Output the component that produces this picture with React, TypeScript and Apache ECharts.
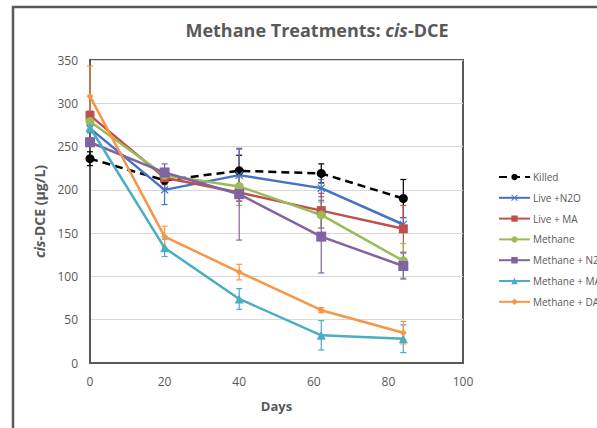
import React, { useEffect, useRef } from "react";
import * as echarts from "echarts";

const days = [0, 20, 40, 62, 84];
const seriesNames = ["Killed", "Live +N2O", "Live + MA", "Methane", "Methane + N2O", "Methane + MA", "Methane + DAP"];
const killed = [236, 211, 222, 219, 190];
const liveN2O = [271, 200, 217, 202, 160];
const liveMA = [286, 214, 197, 176, 155];
const methane = [279, 217, 204, 171, 118];
const methaneN2O = [255, 220, 195, 146, 112];
const methaneMA = [272, 133, 74, 32, 28];
const methaneDAP = [308, 146, 105, 61, 35];
const killedErr = [8, 10, 18, 11, 22];
const liveN2OErr = [5, 17, 30, 10, 8];
const liveMAErr = [5, 8, 10, 20, 27];
const methaneErr = [5, 8, 22, 15, 20];
const methaneN2OErr = [5, 10, 53, 42, 15];
const methaneMAErr = [5, 10, 12, 17, 16];
const methaneDAPErr = [35, 12, 9, 3, 13];

const values = [killed, liveN2O, liveMA, methane, methaneN2O, methaneMA, methaneDAP];
const errors = [killedErr, liveN2OErr, liveMAErr, methaneErr, methaneN2OErr, methaneMAErr, methaneDAPErr];
const colors = ["#000000", "#4472C4", "#C0504D", "#9BBB59", "#8064A2", "#4BACC6", "#F79646"];
const xSymbol = "path://M0,1 L1,0 L5,4 L9,0 L10,1 L6,5 L10,9 L9,10 L5,6 L1,10 L0,9 L4,5Z";
const symbols = ["circle", xSymbol, "rect", "circle", "rect", "triangle", "diamond"];
const symbolSizes = [9, 8, 9, 9, 10, 9, 7];

const FONT = "'Open Sans', 'Liberation Sans', sans-serif";
const GRAY = "#595959";

export default function App() {
  const ref = useRef<HTMLDivElement>(null);
  useEffect(() => {
    if (!ref.current) return;
    const chart = echarts.init(ref.current, undefined, { renderer: "svg" });
    const lineSeries = seriesNames.map((name, i) => ({
      name,
      type: "line",
      data: days.map((d, j) => [d, values[i][j]]),
      symbol: symbols[i],
      symbolSize: symbolSizes[i],
      lineStyle: { color: colors[i], width: 2.5, type: i === 0 ? [8, 5] : "solid" },
      itemStyle: { color: colors[i] },
      z: 3,
    }));
    const errSeries = seriesNames.map((name, i) => ({
      name: name + " err",
      type: "custom",
      data: days.map((d, j) => [d, values[i][j] - errors[i][j], values[i][j] + errors[i][j]]),
      encode: { x: 0, y: [1, 2] },
      z: 2,
      renderItem: (params: any, api: any) => {
        const x = api.value(0);
        const lo = api.coord([x, api.value(1)]);
        const hi = api.coord([x, api.value(2)]);
        const w = 3;
        const style = { stroke: colors[i], lineWidth: 1.2 };
        return {
          type: "group",
          children: [
            { type: "line", shape: { x1: lo[0], y1: lo[1], x2: hi[0], y2: hi[1] }, style },
            { type: "line", shape: { x1: lo[0] - w, y1: lo[1], x2: lo[0] + w, y2: lo[1] }, style },
            { type: "line", shape: { x1: hi[0] - w, y1: hi[1], x2: hi[0] + w, y2: hi[1] }, style },
          ],
        };
      },
    }));
    chart.setOption({
      animation: false,
      textStyle: { fontFamily: FONT },
      title: {
        text: "{n|Methane Treatments: }{i|cis}{n|-DCE}",
        left: 312,
        textAlign: "center",
        top: 16,
        textStyle: {
          rich: {
            n: { fontSize: 18, fontWeight: "bold", color: GRAY, fontFamily: FONT },
            i: { fontSize: 18, fontWeight: "bold", fontStyle: "italic", color: GRAY, fontFamily: FONT },
          },
        },
      },
      legend: {
        data: seriesNames,
        orient: "vertical",
        left: 493,
        top: 167,
        itemWidth: 31,
        itemHeight: 8,
        itemGap: 10.8,
        textStyle: { fontSize: 10, color: GRAY, fontFamily: FONT, padding: [0, 0, 0, -2] },
      },
      grid: {
        left: 90,
        right: 134,
        top: 60,
        bottom: 65,
        show: true,
        borderColor: GRAY,
        borderWidth: 2,
      },
      xAxis: {
        type: "value",
        min: 0,
        max: 100,
        interval: 20,
        name: "Days",
        nameLocation: "middle",
        nameGap: 36,
        nameTextStyle: { fontSize: 13, fontWeight: "bold", color: GRAY, fontFamily: FONT },
        axisLine: { lineStyle: { color: GRAY, width: 2 } },
        axisTick: { show: false },
        splitLine: { show: false },
        axisLabel: { fontSize: 12, color: GRAY, margin: 12 },
      },
      yAxis: {
        type: "value",
        min: 0,
        max: 350,
        interval: 50,
        name: "{i|cis}{n|-DCE (µg/L)}",
        nameLocation: "middle",
        nameGap: 43,
        nameTextStyle: {
          rich: {
            n: { fontSize: 14, fontWeight: "bold", color: GRAY, fontFamily: FONT },
            i: { fontSize: 14, fontWeight: "bold", fontStyle: "italic", color: GRAY, fontFamily: FONT },
          },
        },
        axisLine: { show: true, lineStyle: { color: GRAY, width: 2 } },
        axisTick: { show: false },
        splitLine: { lineStyle: { color: "#d9d9d9", width: 1 } },
        axisLabel: { fontSize: 12, color: GRAY, margin: 12 },
      },
      graphic: [
        {
          type: "rect",
          shape: { x: 13, y: 7, width: 700, height: 600 },
          style: { fill: "none", stroke: GRAY, lineWidth: 2.5 },
          silent: true,
        },
      ],
      series: [...errSeries, ...lineSeries],
    });
    return () => chart.dispose();
  }, []);
  return <div ref={ref} style={{ width: 597, height: 428, position: "absolute", left: 0, top: 0, background: "#fff" }} />;
}
